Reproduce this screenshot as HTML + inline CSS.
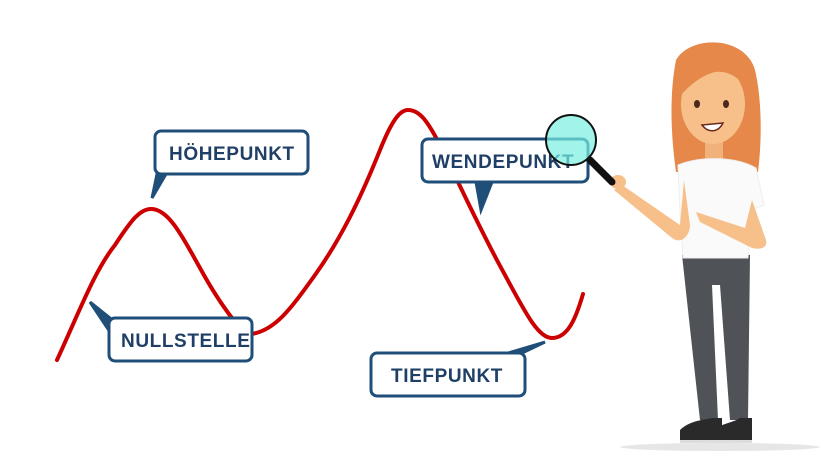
<!DOCTYPE html>
<html><head><meta charset="utf-8"><style>
html,body{margin:0;padding:0;background:#fff;}
svg{display:block;}
text{font-family:"Liberation Sans",sans-serif;font-weight:bold;fill:#1f3f66;font-size:19px;letter-spacing:0.6px;}
</style></head><body>
<svg width="840" height="473" viewBox="0 0 840 473" xmlns="http://www.w3.org/2000/svg">
<path d="M57,360 C80,310 95,270 115,245 C130,222 140,208 152,209 C168,210 180,232 200,268 C212,290 222,305 232,318 M252,334 C275,330 290,310 315,275 C340,240 360,200 380,150 C392,120 400,110 408,110 C420,110 428,122 440,145 C460,185 480,230 505,275 C525,312 538,338 552,338 C568,338 576,318 583,294" fill="none" stroke="#cc0000" stroke-width="4" stroke-linecap="round"/>
<g stroke="#1f4e79" stroke-width="3" fill="#fff">
<path d="M157,174 L152,198 L166,174 Z" fill="#1f4e79"/>
<rect x="155" y="131" width="153" height="43" rx="6"/>
<path d="M115,322 L90,302 L112,335 Z" fill="#1f4e79"/>
<rect x="109" y="318" width="143" height="43" rx="6"/>
<path d="M476,182 L481,210 L492,182 Z" fill="#1f4e79"/>
<rect x="422" y="139" width="166" height="43" rx="6"/>
<path d="M505,354 L545,342 L520,354 Z" fill="#1f4e79"/>
<rect x="371" y="353" width="154" height="43" rx="6"/>
</g>
<text x="169" y="160">HÖHEPUNKT</text>
<text x="121" y="347">NULLSTELLE</text>
<text x="432" y="168">WENDEPUNKT</text>
<text x="391" y="382">TIEFPUNKT</text>
<ellipse cx="720" cy="447" rx="100" ry="4" fill="#e6e6e6"/>
<path d="M676,60 C690,35 745,35 755,70 C762,100 762,140 758,172 L676,172 C670,130 670,90 676,60 Z" fill="#e6884a"/>
<path d="M682,255 L750,255 L748,420 L730,420 L720,285 L712,285 L718,420 L700,420 Z" fill="#4f5257"/>
<path d="M680,430 C690,420 705,420 712,418 L722,418 L722,442 L680,442 Z" fill="#2a2a2a"/>
<path d="M708,432 C720,424 735,422 740,418 L752,418 L752,442 L708,442 Z" fill="#2a2a2a"/>
<rect x="680" y="440" width="72" height="3" fill="#ddd"/>
<rect x="705" y="140" width="18" height="25" fill="#f0b27a"/>
<path d="M678,165 C700,156 735,156 756,168 L764,205 L750,210 L748,258 L683,258 L680,212 Z" fill="#fafafa" stroke="#eee"/>
<path d="M684,180 L680,225 L622,185 L614,190 L672,238 C682,245 690,235 690,225 Z" fill="#f7c08a"/>
<path d="M752,200 L766,240 C768,248 760,250 752,248 L700,222 L696,212 L745,228 Z" fill="#f7c08a"/>
<ellipse cx="618" cy="182" rx="8" ry="7" fill="#f7c08a"/>
<ellipse cx="713" cy="104" rx="32" ry="40" fill="#f7c08a"/>
<path d="M676,100 C675,60 700,45 720,50 C740,55 752,70 752,100 C745,80 730,70 715,72 C700,76 690,85 676,100 Z" fill="#e6884a"/>
<ellipse cx="697" cy="104" rx="3" ry="4" fill="#4a2a1a"/>
<ellipse cx="726" cy="104" rx="3" ry="4" fill="#4a2a1a"/>
<path d="M702,125 C708,133 718,133 723,123 Z" fill="#fff" stroke="#6a2a1a" stroke-width="1.5"/>
<line x1="590" y1="160" x2="612" y2="182" stroke="#111" stroke-width="7" stroke-linecap="round"/>
<circle cx="571" cy="140" r="25" fill="rgba(120,240,225,0.7)" stroke="#111" stroke-width="2"/>
</svg>
</body></html>
